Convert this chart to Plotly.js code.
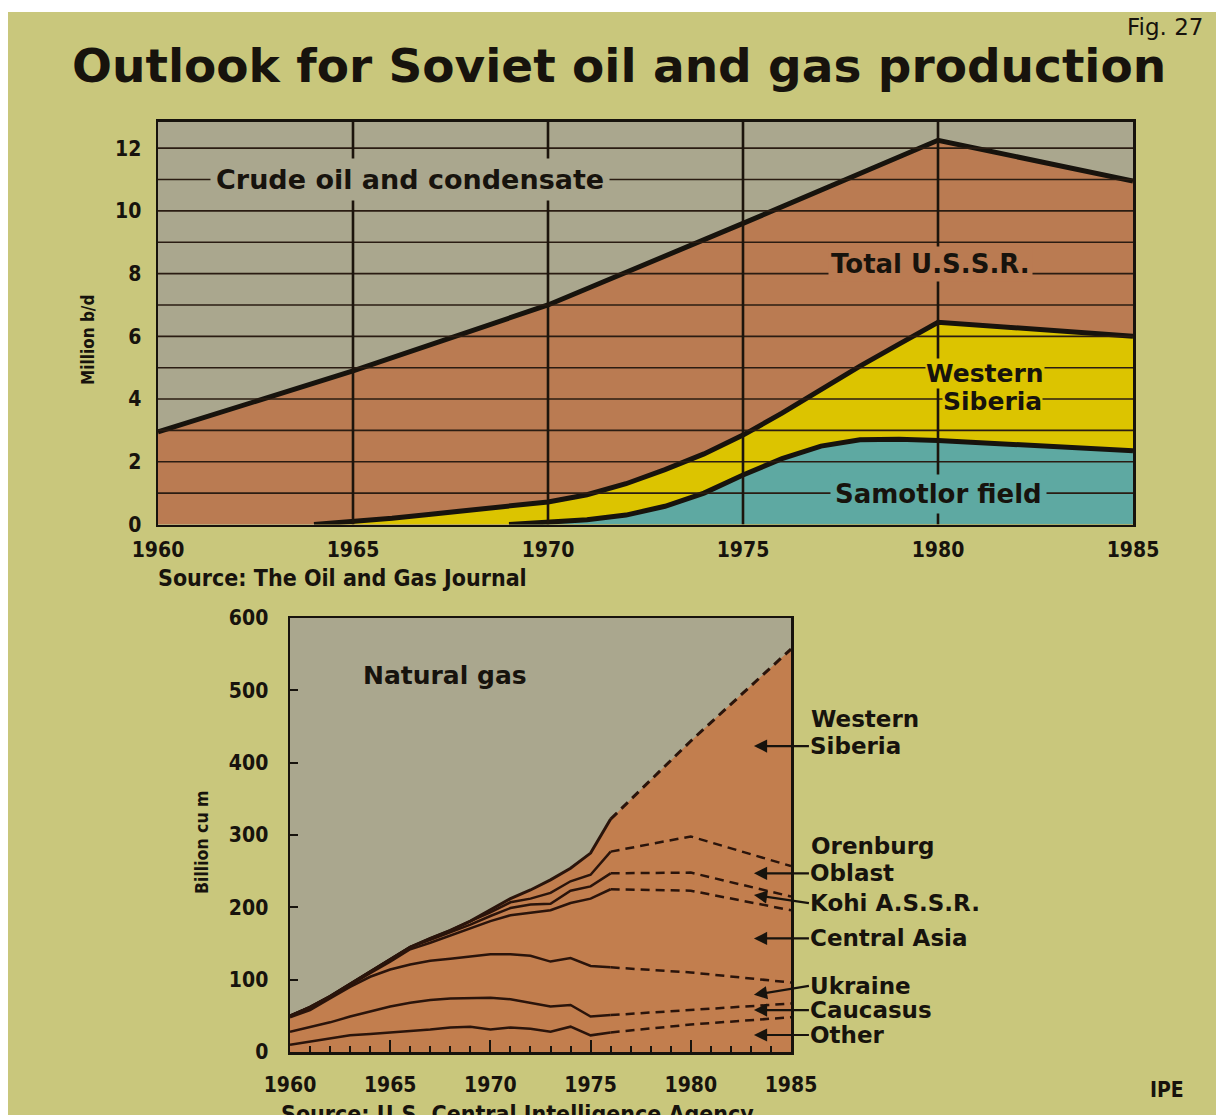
<!DOCTYPE html>
<html><head><meta charset="utf-8">
<script src="https://cdn.plot.ly/plotly-3.0.1.min.js"></script>
<style>html,body{margin:0;padding:0;background:#c9c77c;} #chart{width:1216px;height:1115px;}</style>
</head><body><div id="chart"></div>
<script>
// ---------- Crude oil and condensate (million b/d), cumulative boundaries ----------
const oilTotalYears = [1960, 1965, 1970, 1975, 1980, 1985];
const oilTotal = [2.95, 4.9, 7.0, 9.6, 12.25, 10.95];
const oilWSibYears = [1964, 1965, 1966, 1967, 1968, 1969, 1970, 1971, 1972, 1973, 1974, 1975, 1976, 1977, 1978, 1979, 1980, 1985];
const oilWSib = [0, 0.08, 0.2, 0.33, 0.46, 0.58, 0.72, 0.95, 1.3, 1.75, 2.25, 2.85, 3.55, 4.3, 5.05, 5.75, 6.45, 6.0];
const oilSamotlorYears = [1969, 1970, 1971, 1972, 1973, 1974, 1975, 1976, 1977, 1978, 1979, 1980, 1985];
const oilSamotlor = [0, 0.08, 0.15, 0.3, 0.58, 1.0, 1.58, 2.1, 2.5, 2.7, 2.72, 2.68, 2.35];
const oilTickYears = [1960, 1965, 1970, 1975, 1980, 1985];
const oilTickValues = [0, 2, 4, 6, 8, 10, 12];
const oilGridValues = [1, 2, 3, 4, 5, 6, 7, 8, 9, 10, 11, 12];
const oilGridYears = [1965, 1970, 1975, 1980];

// ---------- Natural gas (billion cu m), cumulative boundaries ----------
const gasHistYears = [1960, 1961, 1962, 1963, 1964, 1965, 1966, 1967, 1968, 1969, 1970, 1971, 1972, 1973, 1974, 1975, 1976];
const gasOtherHist       = [10, 14, 19, 23, 25, 27, 28, 31, 34, 35, 31, 34, 32, 28, 35, 23, 27];
const gasCaucasusHist    = [28, 34, 41, 49, 56, 63, 68, 72, 74, 75, 75, 73, 68, 63, 65, 49, 51];
const gasUkraineHist     = [48, 58, 74, 90, 104, 114, 121, 126, 129, 132, 135, 135, 133, 125, 130, 119, 117];
const gasCentralAsiaHist = [50, 61, 76, 93, 109, 125, 142, 151, 161, 171, 181, 189, 193, 196, 206, 212, 225];
const gasKohiHist        = [50, 62, 77, 94, 111, 128, 145, 155, 165, 176, 188, 199, 204, 205, 223, 229, 247];
const gasOrenburgHist    = [50, 62, 77, 94, 111, 128, 145, 157, 168, 181, 193, 207, 212, 220, 236, 245, 277];
const gasTotalHist       = [50, 62, 77, 94, 111, 128, 145, 157, 168, 181, 196, 212, 224, 238, 254, 275, 322];
const gasProjYears = [1976, 1980, 1985];
const gasOtherProj       = [27, 38, 48];
const gasCaucasusProj    = [51, 58, 67];
const gasUkraineProj     = [117, 110, 96];
const gasCentralAsiaProj = [225, 223, 196];
const gasKohiProj        = [247, 248, 215];
const gasOrenburgProj    = [277, 298, 257];
const gasTotalProj       = [322, 430, 557];
const gasTickYears = [1960, 1965, 1970, 1975, 1980, 1985];
const gasTickValues = [0, 100, 200, 300, 400, 500, 600];
const gasRegionLabels = ['Siberia', 'Oblast', 'Kohi A.S.S.R.', 'Central Asia', 'Ukraine', 'Caucasus', 'Other'];
const gasRegionArrowValues = [423, 247, 217, 157, 79, 58, 23.5];

// ---------- styling ----------
const PAGE = '#c9c77c', PLOTBG = '#aaa78e', BROWN1 = '#ba7b52', BROWN2 = '#c27e4e';
const YELLOW = '#dcc400', TEAL = '#5ea9a2', INK = '#17130d';
const COND = 'DejaVu Sans Condensed, DejaVu Sans, sans-serif';
const WIDE = 'DejaVu Sans, sans-serif';

const traces = [];
traces.push({x: oilTotalYears, y: oilTotal, xaxis: 'x', yaxis: 'y', mode: 'lines', fill: 'tozeroy',
  fillcolor: BROWN1, line: {color: INK, width: 5}, hoverinfo: 'skip'});
traces.push({x: oilWSibYears, y: oilWSib, xaxis: 'x', yaxis: 'y', mode: 'lines', fill: 'tozeroy',
  fillcolor: YELLOW, line: {color: INK, width: 5}, hoverinfo: 'skip'});
traces.push({x: oilSamotlorYears, y: oilSamotlor, xaxis: 'x', yaxis: 'y', mode: 'lines', fill: 'tozeroy',
  fillcolor: TEAL, line: {color: INK, width: 5}, hoverinfo: 'skip'});

const gasAllYears = gasHistYears.concat(gasProjYears.slice(1));
const gasAllTotal = gasTotalHist.concat(gasTotalProj.slice(1));
traces.push({x: gasAllYears, y: gasAllTotal, xaxis: 'x2', yaxis: 'y2', mode: 'lines', fill: 'tozeroy',
  fillcolor: BROWN2, line: {width: 0, color: BROWN2}, hoverinfo: 'skip'});
const gasSeries = [
  [gasOtherHist, gasOtherProj], [gasCaucasusHist, gasCaucasusProj], [gasUkraineHist, gasUkraineProj],
  [gasCentralAsiaHist, gasCentralAsiaProj], [gasKohiHist, gasKohiProj], [gasOrenburgHist, gasOrenburgProj],
  [gasTotalHist, gasTotalProj]
];
gasSeries.forEach(([h, p], i) => {
  const w = i === gasSeries.length - 1 ? 3 : 2.5;
  traces.push({x: gasHistYears, y: h, xaxis: 'x2', yaxis: 'y2', mode: 'lines',
    line: {color: '#2a140b', width: w}, hoverinfo: 'skip'});
  traces.push({x: gasProjYears, y: p, xaxis: 'x2', yaxis: 'y2', mode: 'lines',
    line: {color: '#2a140b', width: w, dash: '9px,6px'}, hoverinfo: 'skip'});
});

const shapes = [];
oilGridValues.forEach(v => shapes.push({type: 'line', xref: 'x', yref: 'y', x0: 1960, x1: 1985, y0: v, y1: v,
  layer: 'above', line: {color: '#2a1c12', width: 1.6}}));
oilGridYears.forEach(yr => shapes.push({type: 'line', xref: 'x', yref: 'y', x0: yr, x1: yr, y0: 0, y1: 12.85,
  layer: 'above', line: {color: '#1c140c', width: 2.6}}));
shapes.push({type: 'rect', xref: 'paper', yref: 'paper', x0: 0, x1: 1, y0: 1 - 12 / 1115, y1: 1.01,
  fillcolor: '#ffffff', line: {width: 0}, layer: 'below'});
shapes.push({type: 'rect', xref: 'paper', yref: 'paper', x0: -0.01, x1: 8 / 1216, y0: 0, y1: 1.01,
  fillcolor: '#ffffff', line: {width: 0}, layer: 'below'});

const lblFont = (s) => ({family: WIDE, size: s, color: INK, weight: 'bold'});
const annotations = [
  {xref: 'x', yref: 'y', x: 1966.46, y: 11, text: 'Crude oil and condensate', showarrow: false,
    font: lblFont(27), bgcolor: PLOTBG, borderpad: 5},
  {xref: 'x', yref: 'y', x: 1979.8, y: 8.3, text: 'Total U.S.S.R.', showarrow: false,
    font: lblFont(26), bgcolor: BROWN1, borderpad: 2},
  {xref: 'x', yref: 'y', x: 1981.2, y: 4.8, text: 'Western', showarrow: false,
    font: lblFont(25), bgcolor: YELLOW, borderpad: 0},
  {xref: 'x', yref: 'y', x: 1981.4, y: 3.92, text: 'Siberia', showarrow: false,
    font: lblFont(25), bgcolor: YELLOW, borderpad: 0},
  {xref: 'x', yref: 'y', x: 1980.0, y: 0.97, text: 'Samotlor field', showarrow: false,
    font: lblFont(26), bgcolor: TEAL, borderpad: 4},
  {xref: 'paper', yref: 'paper', x: 88 / 1216, y: 1 - 340 / 1115, xanchor: 'center', yanchor: 'middle',
    text: 'Million b/d', textangle: -90, showarrow: false, font: {family: COND, size: 17, color: INK, weight: 'bold'}},
  {xref: 'paper', yref: 'paper', x: 157 / 1216, y: 1 - 578 / 1115, xanchor: 'left', yanchor: 'middle',
    text: 'Source: The Oil and Gas Journal', showarrow: false, borderpad: 0, font: {family: COND, size: 23, color: INK, weight: 'bold'}},
  {xref: 'x2', yref: 'y2', x: 1967.75, y: 520, text: 'Natural gas', showarrow: false, font: lblFont(25)},
  {xref: 'paper', yref: 'paper', x: 202 / 1216, y: 1 - 842 / 1115, xanchor: 'center', yanchor: 'middle',
    text: 'Billion cu m', textangle: -90, showarrow: false, font: {family: COND, size: 17.5, color: INK, weight: 'bold'}},
  {xref: 'paper', yref: 'paper', x: 517 / 1216, y: 1 - 1099 / 1115, xanchor: 'center', yanchor: 'top',
    text: 'Source: U.S. Central Intelligence Agency', showarrow: false, font: {family: COND, size: 23, color: INK, weight: 'bold'}},
  {xref: 'paper', yref: 'paper', x: 1167 / 1216, y: 1 - 1090 / 1115, xanchor: 'center', yanchor: 'middle',
    text: 'IPE', showarrow: false, font: {family: COND, size: 21, color: INK, weight: 'bold'}},
  {xref: 'paper', yref: 'paper', x: 1204 / 1216, y: 1 - 27 / 1115, xanchor: 'right', yanchor: 'middle',
    text: 'Fig. 27', showarrow: false, borderpad: 0, font: {family: WIDE, size: 23, color: INK}},
  {xref: 'x2', yref: 'y2', x: 1985, y: 460, xshift: 19, xanchor: 'left', yanchor: 'middle', text: 'Western',
    showarrow: false, borderpad: 0, font: lblFont(23)},
  {xref: 'x2', yref: 'y2', x: 1985, y: 285, xshift: 19, xanchor: 'left', yanchor: 'middle', text: 'Orenburg',
    showarrow: false, borderpad: 0, font: lblFont(23)}
];
const arrowDy = [0, 0, 8, 0, -9, 0, 0];
gasRegionLabels.forEach((t, i) => annotations.push({
  xref: 'x2', yref: 'y2', x: 1983.15, y: gasRegionArrowValues[i], ax: 55, ay: arrowDy[i], axref: 'pixel', ayref: 'pixel',
  xanchor: 'left', yanchor: 'middle', text: t, showarrow: true, arrowhead: 2, arrowsize: 1.2, arrowwidth: 2.2,
  arrowcolor: INK, borderpad: 0, font: lblFont(23)
}));

const tickFont = {family: COND, size: 21, color: INK, weight: 'bold'};
const layout = {
  width: 1216, height: 1115, margin: {l: 0, r: 0, t: 0, b: 0},
  paper_bgcolor: PAGE, plot_bgcolor: PLOTBG, showlegend: false,
  title: {text: 'Outlook for Soviet oil and gas production', x: 72 / 1216, xanchor: 'left', xref: 'container',
    y: 1 - 66 / 1115, yanchor: 'middle', yref: 'container', font: {family: WIDE, size: 47, color: INK, weight: 'bold'}},
  xaxis: {domain: [158 / 1216, 1133 / 1216], anchor: 'y', range: [1960, 1985], tickvals: oilTickYears,
    showgrid: false, zeroline: false, showline: true, mirror: true, linecolor: INK, linewidth: 2.5,
    ticks: '', tickfont: tickFont, ticklabelstandoff: 5},
  yaxis: {domain: [(1115 - 524.5) / 1115, (1115 - 121.5) / 1115], anchor: 'x', range: [0, 12.85], tickvals: oilTickValues,
    showgrid: false, zeroline: false, showline: true, mirror: true, linecolor: INK, linewidth: 2.5,
    ticks: '', tickfont: tickFont, ticklabelstandoff: 10},
  xaxis2: {domain: [290 / 1216, 791 / 1216], anchor: 'y2', range: [1960, 1985], tickvals: gasTickYears,
    showgrid: false, zeroline: false, showline: true, mirror: true, linecolor: INK, linewidth: 2.5,
    ticks: 'inside', ticklen: 12, tickwidth: 2, tickcolor: INK,
    minor: {dtick: 1, tick0: 1960, ticks: 'inside', ticklen: 6, tickwidth: 2, tickcolor: INK, showgrid: false},
    tickfont: tickFont, ticklabelstandoff: 12},
  yaxis2: {domain: [(1115 - 1052) / 1115, (1115 - 618) / 1115], anchor: 'x2', range: [0, 600], tickvals: gasTickValues,
    showgrid: false, zeroline: false, showline: true, mirror: true, linecolor: INK, linewidth: 2.5,
    ticks: 'inside', ticklen: 8, tickwidth: 2, tickcolor: INK, tickfont: tickFont, ticklabelstandoff: 15},
  shapes: shapes, annotations: annotations
};
Plotly.newPlot('chart', traces, layout, {staticPlot: true, displayModeBar: false});
</script></body></html>
